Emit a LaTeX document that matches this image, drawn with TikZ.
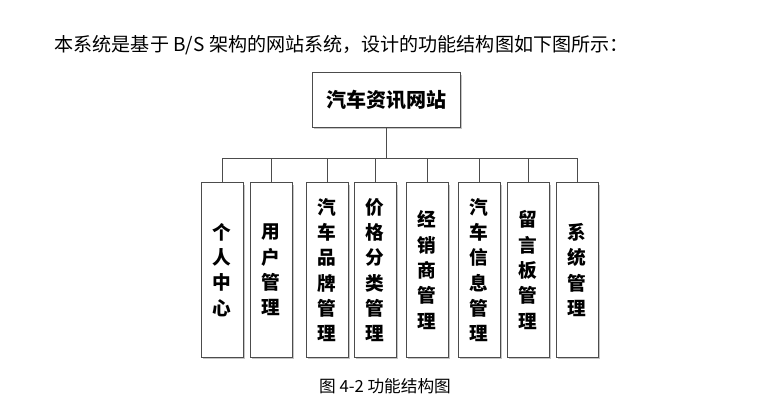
\documentclass[tikz,border=0pt]{standalone}
\usepackage{fontspec}
\setmainfont{Liberation Sans}
\newfontfamily\cjk{Noto Sans CJK SC}
\usetikzlibrary{positioning}
\tikzset{
  box/.style={draw=black!70,fill=white,line width=0.6pt,align=center,
    font=\cjk\bfseries\fontsize{14}{19}\selectfont,inner sep=0pt,
    drop shadow={shadow xshift=1.5pt,shadow yshift=-1.5pt,fill=black!45}},
  leaf/.style={box,minimum width=31.5pt,minimum height=131pt},
  link/.style={draw=black!70,line width=0.6pt}
}
\usetikzlibrary{shadows}
\begin{document}
\begin{tikzpicture}[x=0.75pt,y=-0.75pt]
\useasboundingbox (0,0) rectangle (761,414);
\node[anchor=west,font=\cjk\fontsize{14.3}{16}\selectfont] (intro) at (50,45) {本系统是基于 B/S 架构的网站系统，设计的功能结构图如下图所示：};
\node[box,minimum width=111pt,minimum height=41pt,font=\cjk\bfseries\fontsize{15}{18}\selectfont] (root) at (386,100) {汽车资讯网站};
\coordinate (bus) at (386,158);
\foreach \n/\x/\t in {a/222/个\\人\\中\\心, b/271/用\\户\\管\\理, c/327/汽\\车\\品\\牌\\管\\理,
  d/375/价\\格\\分\\类\\管\\理, e/427/经\\销\\商\\管\\理, f/479/汽\\车\\信\\息\\管\\理,
  g/528/留\\言\\板\\管\\理, h/577/系\\统\\管\\理} {
  \node[leaf] (\n) at (\x,270) {\t};
  \draw[link] (\n.north) -- (\n.north |- bus);
}
\draw[link] (root.south) -- (bus);
\draw[link] (a.north |- bus) -- (h.north |- bus);
\node[font=\cjk\fontsize{12.5}{14}\selectfont] (cap) at (385,386) {图 4-2 功能结构图};
\end{tikzpicture}
\end{document}
